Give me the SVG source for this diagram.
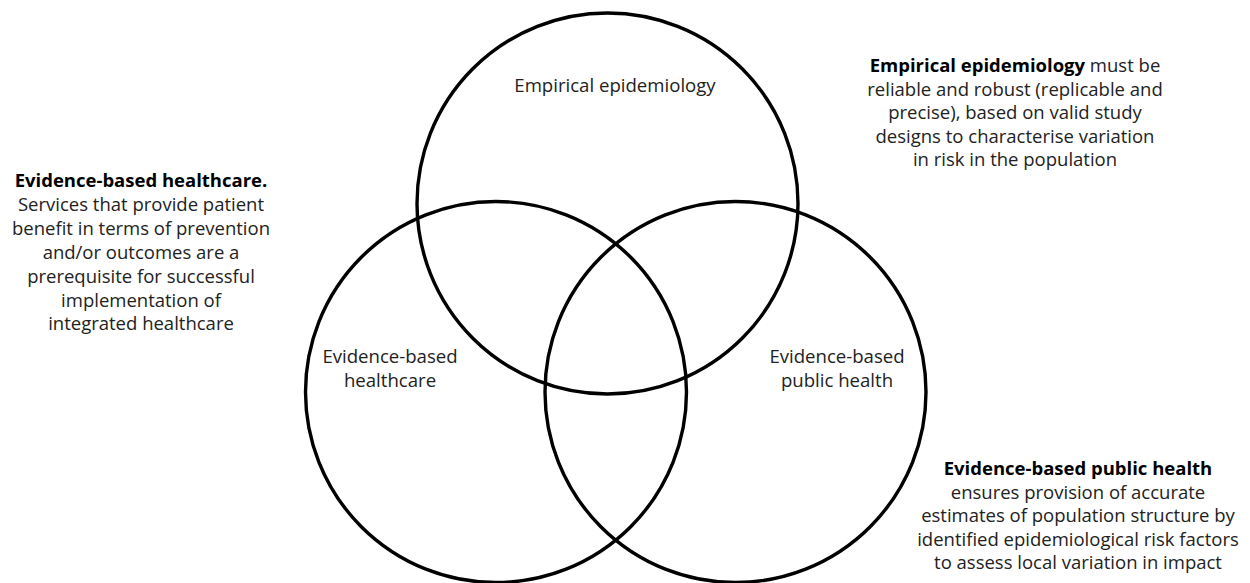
<svg xmlns="http://www.w3.org/2000/svg" width="1250" height="583" viewBox="0 0 1250 583">
  <style>
    .c { fill: none; stroke: #000; stroke-width: 3.4; }
    .lbl { font-family: "Open Sans", "Liberation Sans", sans-serif; font-size: 18.6px; fill: #222; text-anchor: middle; }
    .para { font-family: "Open Sans", "Liberation Sans", sans-serif; font-size: 18.5px; fill: #222; text-anchor: middle; }
    .b { font-weight: bold; fill: #000; }
  </style>
  <rect width="1250" height="583" fill="#fff"/>
  <g id="connectors"></g>
  <g id="node-empirical">
    <circle class="c" cx="607.5" cy="203.5" r="190.5"/>
    <text class="lbl" x="615" y="92">Empirical epidemiology</text>
  </g>
  <g id="node-healthcare">
    <circle class="c" cx="496" cy="392" r="190.5"/>
    <text class="lbl" x="390" y="363">Evidence-based</text>
    <text class="lbl" x="390" y="387">healthcare</text>
  </g>
  <g id="node-publichealth">
    <circle class="c" cx="735.5" cy="392" r="190.5"/>
    <text class="lbl" x="837" y="363">Evidence-based</text>
    <text class="lbl" x="837" y="387">public health</text>
  </g>
  <g id="note-empirical">
    <text class="para" x="1015" y="72"><tspan class="b">Empirical epidemiology</tspan> must be</text>
    <text class="para" x="1015" y="95.5">reliable and robust (replicable and</text>
    <text class="para" x="1015" y="119">precise), based on valid study</text>
    <text class="para" x="1015" y="142.5">designs to characterise variation</text>
    <text class="para" x="1015" y="166">in risk in the population</text>
  </g>
  <g id="note-healthcare">
    <text class="para b" x="141" y="187">Evidence-based healthcare.</text>
    <text class="para" x="141" y="211">Services that provide patient</text>
    <text class="para" x="141" y="235">benefit in terms of prevention</text>
    <text class="para" x="141" y="259">and/or outcomes are a</text>
    <text class="para" x="141" y="283">prerequisite for successful</text>
    <text class="para" x="141" y="307">implementation of</text>
    <text class="para" x="141" y="330">integrated healthcare</text>
  </g>
  <g id="note-publichealth">
    <text class="para b" x="1078" y="475">Evidence-based public health</text>
    <text class="para" x="1078" y="498.5">ensures provision of accurate</text>
    <text class="para" x="1078" y="522">estimates of population structure by</text>
    <text class="para" x="1078" y="545.5">identified epidemiological risk factors</text>
    <text class="para" x="1078" y="569">to assess local variation in impact</text>
  </g>
</svg>
